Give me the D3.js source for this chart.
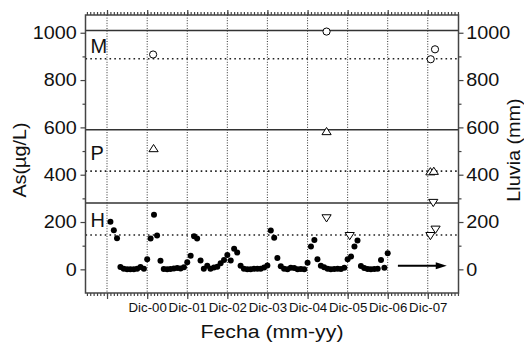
<!DOCTYPE html>
<html>
<head>
<meta charset="utf-8">
<script src="https://cdn.jsdelivr.net/npm/d3@7"></script>
<style>
  body { margin: 0; background: #fff; }
  text { font-family: "Liberation Sans", Arial, sans-serif; fill: #111; }
</style>
</head>
<body>
<svg id="graf" width="524" height="344"></svg>
<script>
// ---- datos ----
// As (µg/L) mensual, desde ene-2000 (mes 1) hasta dic-2006
const asInicio = "1999-12-01";
const asValores = [201, 165, 131, 10, 3, 0, 0, 0, 3, 10, 2, 43,
                   130, 231, 143, 36, 1, 0, 1, 4, 6, 4, 9, 30,
                   57, 140, 130, 37, 2, 15, 3, 8, 11, 26, 40, 61,
                   37, 87, 71, 15, 3, 0, 0, 2, 3, 3, 8, 16,
                   164, 133, 48, 13, 3, 0, 7, 6, 0, 1, 0, 28,
                   97, 124, 43, 15, 9, 3, 0, 1, 3, 1, 7, 43,
                   54, 97, 122, 14, 6, 1, 0, 1, 3, 40, 7, 68];

// lluvia (mm) por nivel: M = círculos, P = triángulos, H = triángulos invertidos
const lluviaM = [["2001-01-24", 908], ["2005-05-23", 1005], ["2007-12-28", 888], ["2008-02-05", 930]];
const lluviaP = [["2001-01-28", 510], ["2005-05-23", 582], ["2007-12-25", 412], ["2008-01-25", 414]];
const lluviaH = [["2005-05-23", 218], ["2005-12-20", 143], ["2007-12-25", 143],
                 ["2008-01-20", 283], ["2008-02-10", 170]];

// líneas de referencia (sólida = límite, punteada = media)
const nivelesSolidos = [1010, 590, 280];
const nivelesPunteados = [890, 415, 145];
const etiquetasNivel = [["M", 914], ["P", 462], ["H", 179]];

const ticksY = [0, 200, 400, 600, 800, 1000];
const ticksYmenores = [100, 300, 500, 700, 900];
const aniosDic = [1999, 2000, 2001, 2002, 2003, 2004, 2005, 2006, 2007];
const flecha = [["2007-03-04", 15], ["2008-05-22", 15]];

// ---- escalas ----
const parse = d3.timeParse("%Y-%m-%d");
const svg = d3.select("#graf");
const L = 85.5, R = 458.5, T = 15, B = 293;

const x = d3.scaleTime()
    .domain([parse("1999-05-19"), parse("2008-09-06")])
    .range([L, R]);
const y = d3.scaleLinear().domain([-100, 1075]).range([B, T]);

const fechasDic = aniosDic.map(a => new Date(a, 11, 1));
const meses = d3.timeMonth.range(x.domain()[0], x.domain()[1]);

// rejilla vertical punteada en cada diciembre
svg.append("g").selectAll("line").data(fechasDic).enter().append("line")
    .attr("x1", d => x(d)).attr("x2", d => x(d))
    .attr("y1", T).attr("y2", B)
    .attr("stroke", "#333").attr("stroke-width", 1)
    .attr("stroke-dasharray", "1,1.6");

// líneas horizontales
svg.append("g").selectAll("line").data(nivelesPunteados).enter().append("line")
    .attr("x1", L).attr("x2", R)
    .attr("y1", d => y(d)).attr("y2", d => y(d))
    .attr("stroke", "#222").attr("stroke-width", 1.6)
    .attr("stroke-dasharray", "1.6,3.2");

svg.append("g").selectAll("line").data(nivelesSolidos).enter().append("line")
    .attr("x1", L).attr("x2", R)
    .attr("y1", d => y(d)).attr("y2", d => y(d))
    .attr("stroke", "#333").attr("stroke-width", 1.5);

svg.append("g").selectAll("text").data(etiquetasNivel).enter().append("text")
    .attr("x", L + 5).attr("y", d => y(d[1]))
    .attr("font-size", 20)
    .text(d => d[0]);

// ---- ejes ----
function limpiar(g) {
    g.select(".domain").remove();
    g.selectAll(".tick line").attr("stroke", "#444").attr("stroke-width", 1.2);
}

svg.append("g").attr("transform", `translate(${L},0)`)
    .call(d3.axisLeft(y).tickValues(ticksY).tickSize(5).tickPadding(3).tickFormat(d3.format("d")))
    .call(limpiar)
    .selectAll("text").attr("font-size", 18).attr("font-family", null)
    .attr("transform", "scale(1.1,1)");
svg.append("g").attr("transform", `translate(${L},0)`)
    .call(d3.axisLeft(y).tickValues(ticksYmenores).tickSize(3).tickFormat(""))
    .call(limpiar);

svg.append("g").attr("transform", `translate(${R},0)`)
    .call(d3.axisRight(y).tickValues(ticksY).tickSize(5).tickPadding(2).tickFormat(d3.format("d")))
    .call(limpiar)
    .selectAll("text").attr("font-size", 18).attr("font-family", null)
    .attr("transform", "scale(1.1,1)");
svg.append("g").attr("transform", `translate(${R},0)`)
    .call(d3.axisRight(y).tickValues(ticksYmenores).tickSize(3).tickFormat(""))
    .call(limpiar);

const fmtDic = d => d.getFullYear() < 2000 ? "" : "Dic-" + d3.timeFormat("%y")(d);

svg.append("g").attr("transform", `translate(0,${B})`)
    .call(d3.axisBottom(x).tickValues(meses).tickSize(3).tickFormat(""))
    .call(limpiar);
svg.append("g").attr("transform", `translate(0,${B})`)
    .call(d3.axisBottom(x).tickValues(fechasDic).tickSize(6).tickPadding(4).tickFormat(fmtDic))
    .call(limpiar)
    .selectAll("text").attr("font-size", 12.5).attr("font-family", null)
    .attr("transform", "scale(1.06,1)");

svg.append("g").attr("transform", `translate(0,${T})`)
    .call(d3.axisTop(x).tickValues(meses).tickSize(3).tickFormat(""))
    .call(limpiar);
svg.append("g").attr("transform", `translate(0,${T})`)
    .call(d3.axisTop(x).tickValues(fechasDic).tickSize(5).tickFormat(""))
    .call(limpiar);

// marco
svg.append("rect").attr("x", L).attr("y", T)
    .attr("width", R - L).attr("height", B - T)
    .attr("fill", "none").attr("stroke", "#444").attr("stroke-width", 1.5);

// títulos
svg.append("text").attr("transform", "translate(26,160) rotate(-90) scale(1.1,1)")
    .attr("text-anchor", "middle").attr("font-size", 18).text("As(µg/L)");
svg.append("text").attr("transform", "translate(520,150) rotate(-90) scale(1.1,1)")
    .attr("text-anchor", "middle").attr("font-size", 18).text("Lluvia (mm)");
svg.append("text").attr("transform", "translate(272,338) scale(1.12,1)")
    .attr("text-anchor", "middle").attr("font-size", 19).text("Fecha (mm-yy)");

// ---- marcas ----
const asDatos = asValores.map((v, i) => [d3.timeMonth.offset(parse(asInicio), i + 1), v]);

svg.append("g").selectAll("circle").data(asDatos).enter().append("circle")
    .attr("cx", d => x(d[0])).attr("cy", d => y(d[1]))
    .attr("r", 3).attr("fill", "#000");

svg.append("g").selectAll("circle").data(lluviaM).enter().append("circle")
    .attr("cx", d => x(parse(d[0]))).attr("cy", d => y(d[1]))
    .attr("r", 3.6).attr("fill", "#fff").attr("stroke", "#000").attr("stroke-width", 1);

const triArriba = "M0,-4.2L4.6,3L-4.6,3Z";
const triAbajo = "M0,4.2L4.6,-3L-4.6,-3Z";

svg.append("g").selectAll("path").data(lluviaP).enter().append("path")
    .attr("transform", d => `translate(${x(parse(d[0]))},${y(d[1])})`)
    .attr("d", triArriba)
    .attr("fill", "#fff").attr("stroke", "#000").attr("stroke-width", 1);

svg.append("g").selectAll("path").data(lluviaH).enter().append("path")
    .attr("transform", d => `translate(${x(parse(d[0]))},${y(d[1])})`)
    .attr("d", triAbajo)
    .attr("fill", "#fff").attr("stroke", "#000").attr("stroke-width", 1);

// flecha
const f0 = [x(parse(flecha[0][0])), y(flecha[0][1])];
const f1 = [x(parse(flecha[1][0])), y(flecha[1][1])];
svg.append("line")
    .attr("x1", f0[0]).attr("y1", f0[1]).attr("x2", f1[0] - 8).attr("y2", f1[1])
    .attr("stroke", "#000").attr("stroke-width", 2);
svg.append("path")
    .attr("d", `M${f1[0]},${f1[1]}L${f1[0] - 11},${f1[1] - 3.5}L${f1[0] - 11},${f1[1] + 3.5}Z`)
    .attr("fill", "#000");
</script>
</body>
</html>
